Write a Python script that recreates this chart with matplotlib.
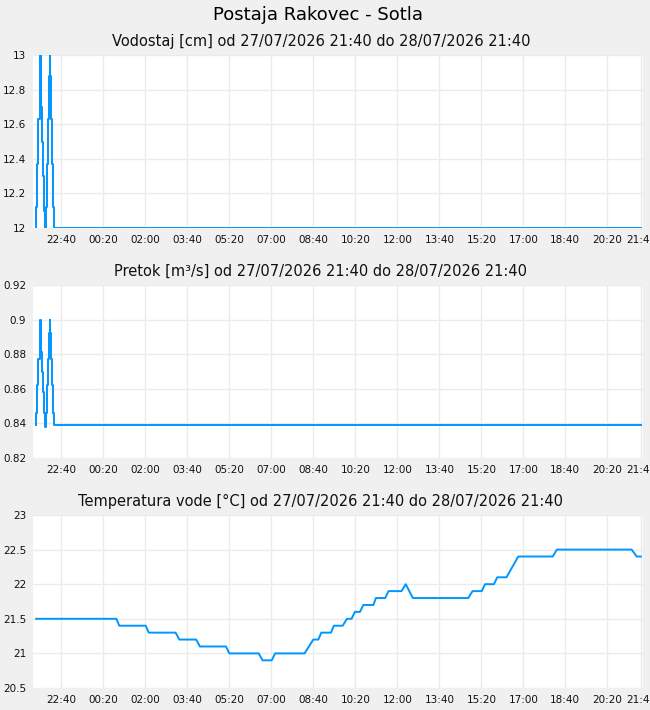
import datetime as dt
import matplotlib
matplotlib.use("Agg")
import matplotlib.pyplot as plt
import matplotlib.dates as mdates
from matplotlib.ticker import FuncFormatter, MultipleLocator

# --- data (minutes after 27/07/2026 21:40) ---
start = dt.datetime(2026, 7, 27, 21, 40)

level_min = [0, 0.5, 3, 5.5, 8, 10, 10.5, 12, 14.5, 17, 19.5, 22, 22.5, 25, 27.5, 30, 32, 32.5, 35, 37.5, 40, 42, 1440]
level_cm = [12.0, 12.12, 12.37, 12.63, 12.88, 13.0, 12.9, 12.7, 12.5, 12.3, 12.1, 12.0, 12.12, 12.37, 12.63,
            12.88, 13.0, 12.88, 12.63, 12.37, 12.12, 12.0, 12.0]

flow_min = level_min
flow_m3s = [0.839, 0.846, 0.862, 0.877, 0.892, 0.900, 0.894, 0.881, 0.870, 0.858, 0.846, 0.838, 0.846, 0.862,
            0.877, 0.892, 0.900, 0.892, 0.877, 0.862, 0.846, 0.839, 0.839]

temp_min = [0, 191, 198, 261, 268, 332, 341, 381, 390, 452, 460, 530, 539, 561, 569, 639, 660, 672, 679, 702,
            709, 730, 740, 751, 759, 771, 779, 803, 809, 831, 839, 870, 880, 897, 1029, 1039, 1061, 1069, 1090,
            1098, 1120, 1148, 1230, 1240, 1418, 1430, 1440]
temp_c = [21.5, 21.5, 21.4, 21.4, 21.3, 21.3, 21.2, 21.2, 21.1, 21.1, 21.0, 21.0, 20.9, 20.9, 21.0, 21.0, 21.2,
          21.2, 21.3, 21.3, 21.4, 21.4, 21.5, 21.5, 21.6, 21.6, 21.7, 21.7, 21.8, 21.8, 21.9, 21.9, 22.0, 21.8,
          21.8, 21.9, 21.9, 22.0, 22.0, 22.1, 22.1, 22.4, 22.4, 22.5, 22.5, 22.4, 22.4]

titles = ["Vodostaj [cm] od 27/07/2026 21:40 do 28/07/2026 21:40",
          "Pretok [m³/s] od 27/07/2026 21:40 do 28/07/2026 21:40",
          "Temperatura vode [°C] od 27/07/2026 21:40 do 28/07/2026 21:40"]
ylims = [(12, 13), (0.82, 0.92), (20.5, 23)]
ysteps = [0.2, 0.02, 0.5]

LINE = "#0096ff"
BG = "#f0f0f0"


def to_time(mins):
    return [start + dt.timedelta(minutes=m) for m in mins]


def graphic():
    fig = plt.figure(figsize=(6.5, 7.1), dpi=100, facecolor=BG)
    fig.text(318 / 650, 1 - 19.5 / 710, "Postaja Rakovec - Sotla", ha="center", va="baseline",
             fontsize=13, color="black")

    series = [(level_min, level_cm, "steps-post"),
              (flow_min, flow_m3s, "steps-post"),
              (temp_min, temp_c, "default")]
    tops = [55, 285, 515]
    title_base = [45.7, 275.7, 505.7]

    # ticks every 100 minutes from 22:40, plus the end of the period
    ticks = [start + dt.timedelta(minutes=60 + 100 * k) for k in range(14)]
    ticks.append(start + dt.timedelta(minutes=1440))

    for i, (mins, vals, ds) in enumerate(series):
        top = tops[i]
        ax = fig.add_axes([33 / 650, 1 - (top + 173) / 710, 610 / 650, 173 / 710])
        ax.set_facecolor("white")
        ax.plot(to_time(mins), vals, color=LINE, lw=1.4, drawstyle=ds)
        ax.set_ylim(*ylims[i])
        ax.yaxis.set_major_locator(MultipleLocator(ysteps[i]))
        ax.yaxis.set_major_formatter(FuncFormatter(lambda v, p: "%g" % round(v, 4)))
        ax.set_xlim(start - dt.timedelta(minutes=7.5), start + dt.timedelta(minutes=1445))
        ax.set_xticks(ticks)
        ax.xaxis.set_major_formatter(mdates.DateFormatter("%H:%M"))
        ax.grid(True, color="#ebebeb", lw=1)
        ax.set_axisbelow(True)
        for s in ax.spines.values():
            s.set_visible(False)
        ax.tick_params(length=0, labelsize=7.5, colors="#111111", pad=5)
        fig.text(321 / 650, 1 - title_base[i] / 710, titles[i], ha="center", va="baseline",
                 fontsize=10.5, color="#111111")

    fig.savefig("out.png", dpi=100, facecolor=BG)


if __name__ == '__main__':
    graphic()
